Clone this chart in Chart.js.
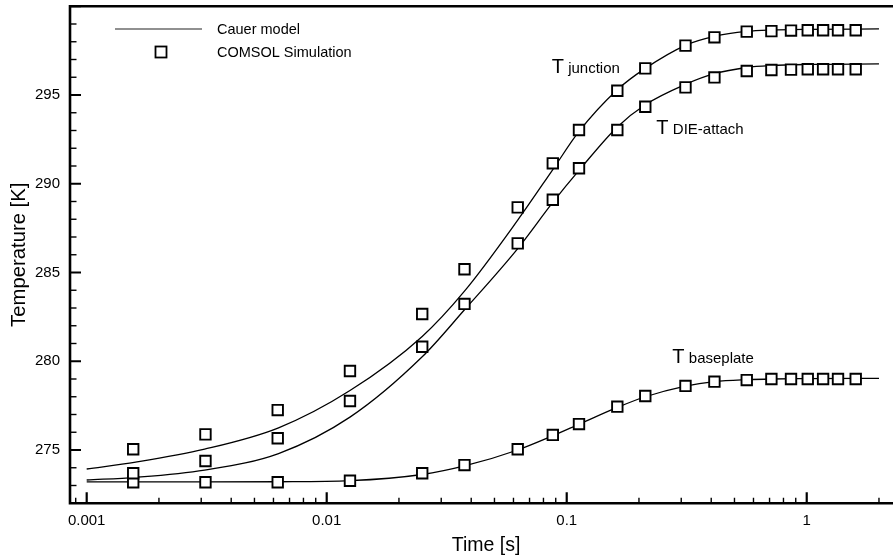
<!DOCTYPE html>
<html>
<head>
<meta charset="utf-8">
<title>Transient temperature response</title>
<script src="https://cdn.jsdelivr.net/npm/chart.js@4/dist/chart.umd.min.js"></script>
<style>
  html, body { margin: 0; padding: 0; background: #fff; }
  canvas { display: block; }
</style>
</head>
<body>
<canvas id="chart" width="893" height="559"></canvas>
<script>
// ---- data -------------------------------------------------------------
// COMSOL simulation sample times [s]
const simTimes = [0.0015625, 0.003125, 0.00625, 0.0125, 0.025, 0.0375, 0.0625, 0.0875,
                  0.1125, 0.1625, 0.2125, 0.3125, 0.4125, 0.5625, 0.7125, 0.86, 1.01, 1.17, 1.35, 1.6];
const junctionSim = [275.04, 275.88, 277.25, 279.45, 282.66, 285.18, 288.67, 291.15,
                     293.03, 295.24, 296.5, 297.78, 298.25, 298.57, 298.6, 298.63, 298.65, 298.65, 298.65, 298.65];
const dieAttachSim = [273.69, 274.38, 275.66, 277.76, 280.82, 283.23, 286.64, 289.1,
                      290.87, 293.03, 294.34, 295.43, 295.99, 296.35, 296.41, 296.43, 296.45, 296.45, 296.45, 296.45];
const baseplateSim = [273.18, 273.18, 273.18, 273.27, 273.69, 274.15, 275.04, 275.85,
                      276.46, 277.44, 278.04, 278.61, 278.85, 278.94, 279.0, 279.0, 279.0, 279.0, 279.0, 279.0];

// Cauer network model response
const modelTimes = [0.001, 0.0016, 0.0031, 0.0063, 0.0125, 0.025, 0.0375, 0.0625, 0.0875,
                    0.1125, 0.1625, 0.2125, 0.3125, 0.4125, 0.5625, 0.7125, 1.0, 2.0];
const junctionModel = [273.93, 274.32, 275.05, 276.25, 278.35, 281.4, 283.95, 287.95, 290.8,
                       292.95, 295.3, 296.5, 297.8, 298.3, 298.58, 298.66, 298.7, 298.72];
const dieAttachModel = [273.31, 273.46, 273.87, 274.8, 276.85, 280.25, 282.9, 286.35, 288.95,
                        290.75, 293.2, 294.45, 295.6, 296.2, 296.55, 296.66, 296.72, 296.75];
const baseplateModel = [273.2, 273.2, 273.2, 273.21, 273.27, 273.62, 274.1, 275.0, 275.8,
                        276.45, 277.4, 278.0, 278.6, 278.85, 278.96, 279.0, 279.02, 279.04];

const xTickValues = [0.001, 0.01, 0.1, 1];
const yTickValues = [275, 280, 285, 290, 295];

const seriesNames = ['T junction', 'T DIE-attach', 'T baseplate'];
const legendNames = ['Cauer model', 'COMSOL Simulation'];
const axisTitles = { x: 'Time [s]', y: 'Temperature [K]' };

// ---- helpers ------------------------------------------------------------
const FONT = '"Liberation Sans", Arial, Helvetica, sans-serif';
const pairs = (xs, ys) => xs.map((x, i) => ({ x: x, y: ys[i] }));

const lineStyle = {
  type: 'line',
  borderColor: '#000',
  borderWidth: 1.3,
  pointRadius: 0,
  fill: false,
  cubicInterpolationMode: 'monotone',
  order: 2
};
const squareStyle = {
  type: 'scatter',
  showLine: false,
  pointStyle: 'rect',
  pointRadius: 7.4,
  pointBorderWidth: 1.9,
  pointBackgroundColor: '#fff',
  pointBorderColor: '#000',
  order: 1
};

// ---- frame: spines and inward ticks -------------------------------------
const framePlugin = {
  id: 'frame',
  afterDatasetsDraw(chart) {
    const { ctx, chartArea: a, scales: { x, y } } = chart;
    ctx.save();
    ctx.strokeStyle = '#000';
    ctx.lineCap = 'butt';

    // y ticks (every 1 K, major every 5 K)
    for (let v = Math.ceil(y.min); v <= y.max; v++) {
      const py = y.getPixelForValue(v);
      const major = v % 5 === 0;
      ctx.lineWidth = major ? 2 : 1.4;
      ctx.beginPath();
      ctx.moveTo(a.left, py);
      ctx.lineTo(a.left + (major ? 11 : 6.5), py);
      ctx.stroke();
    }
    // x ticks (decades major, 2..9 minor)
    for (let e = -4; e <= 1; e++) {
      for (let k = 1; k <= 9; k++) {
        const v = k * Math.pow(10, e);
        if (v < x.min || v > x.max) continue;
        const px = x.getPixelForValue(v);
        const major = k === 1;
        ctx.lineWidth = major ? 2.2 : 1.4;
        ctx.beginPath();
        ctx.moveTo(px, a.bottom);
        ctx.lineTo(px, a.bottom - (major ? 11 : 5.5));
        ctx.stroke();
      }
    }
    // spines
    ctx.lineWidth = 2.6;
    ctx.beginPath();
    ctx.moveTo(a.right + 2, a.top);
    ctx.lineTo(a.left, a.top);
    ctx.lineTo(a.left, a.bottom);
    ctx.lineTo(a.right + 2, a.bottom);
    ctx.stroke();
    ctx.restore();
  }
};

// ---- axis titles, curve names and legend --------------------------------
const labelPlugin = {
  id: 'labels',
  afterDraw(chart) {
    const { ctx, chartArea: a, scales: { x, y } } = chart;
    ctx.save();
    ctx.fillStyle = '#000';

    // axis titles
    ctx.font = '19.5px ' + FONT;
    ctx.textAlign = 'center';
    ctx.textBaseline = 'alphabetic';
    ctx.fillText(axisTitles.x, (a.left + a.right) / 2 + 4.5, 550.5);
    ctx.save();
    ctx.translate(25, (a.top + a.bottom) / 2);
    ctx.rotate(-Math.PI / 2);
    ctx.font = '20.3px ' + FONT;
    ctx.fillText(axisTitles.y, 0, 0);
    ctx.restore();

    // curve names, anchored in data units (time, temperature)
    ctx.textAlign = 'left';
    const anchors = [[0.0874, 296.26], [0.2385, 292.8], [0.278, 279.88]];
    seriesNames.forEach((name, i) => {
      const px = x.getPixelForValue(anchors[i][0]);
      const py = y.getPixelForValue(anchors[i][1]);
      const parts = name.split(' ');
      ctx.font = '20px ' + FONT;
      ctx.fillText(parts[0], px - 1, py);
      ctx.font = '15px ' + FONT;
      ctx.fillText(parts[1], px + 15.5, py);
    });

    // legend
    const lx0 = 115, lx1 = 202, tx = 217;
    const y1 = 29, y2 = 52;
    ctx.strokeStyle = '#222';
    ctx.lineWidth = 1.2;
    ctx.beginPath();
    ctx.moveTo(lx0, y1);
    ctx.lineTo(lx1, y1);
    ctx.stroke();
    ctx.fillStyle = '#fff';
    ctx.strokeStyle = '#000';
    ctx.lineWidth = 1.8;
    const cx = (lx0 + lx1) / 2 + 2.5;
    ctx.fillRect(cx - 5.5, y2 - 5.5, 11, 11);
    ctx.strokeRect(cx - 5.5, y2 - 5.5, 11, 11);

    ctx.fillStyle = '#000';
    ctx.font = '14.5px ' + FONT;
    ctx.textBaseline = 'middle';
    ctx.fillText(legendNames[0], tx, y1 + 0.5);
    ctx.fillText(legendNames[1], tx, y2 + 0.5);
    ctx.restore();
  }
};

// keep the plot frame fixed: no extra room reserved for edge labels
function fixBox(size) {
  return (s) => {
    if (s.isHorizontal()) { s.height = size; } else { s.width = size; }
    s.paddingTop = 0; s.paddingBottom = 0; s.paddingLeft = 0; s.paddingRight = 0;
  };
}

// ---- chart --------------------------------------------------------------
new Chart(document.getElementById('chart'), {
  data: {
    datasets: [
      Object.assign({ label: seriesNames[0] + ' sim', data: pairs(simTimes, junctionSim) }, squareStyle),
      Object.assign({ label: seriesNames[1] + ' sim', data: pairs(simTimes, dieAttachSim) }, squareStyle),
      Object.assign({ label: seriesNames[2] + ' sim', data: pairs(simTimes, baseplateSim) }, squareStyle),
      Object.assign({ label: seriesNames[0], data: pairs(modelTimes, junctionModel) }, lineStyle),
      Object.assign({ label: seriesNames[1], data: pairs(modelTimes, dieAttachModel) }, lineStyle),
      Object.assign({ label: seriesNames[2], data: pairs(modelTimes, baseplateModel) }, lineStyle)
    ]
  },
  options: {
    responsive: false,
    animation: false,
    devicePixelRatio: 1,
    layout: { autoPadding: false, padding: { top: 6.25, right: 0, bottom: 0, left: 0 } },
    plugins: {
      legend: { display: false },
      tooltip: { enabled: false }
    },
    scales: {
      x: {
        type: 'logarithmic',
        min: 0.000852,
        max: 2.288,
        grid: { display: false, drawTicks: false },
        border: { display: false },
        afterBuildTicks: (s) => { s.ticks = xTickValues.map(v => ({ value: v })); },
        afterFit: fixBox(55.75),
        ticks: {
          color: '#000',
          font: { family: FONT, size: 15 },
          padding: 9,
          maxRotation: 0,
          autoSkip: false,
          callback: (v) => String(v)
        }
      },
      y: {
        type: 'linear',
        min: 272,
        max: 300,
        grid: { display: false, drawTicks: false },
        border: { display: false },
        afterBuildTicks: (s) => { s.ticks = yTickValues.map(v => ({ value: v })); },
        afterFit: fixBox(70),
        ticks: {
          color: '#000',
          font: { family: FONT, size: 15 },
          padding: 10,
          autoSkip: false,
          callback: (v) => String(v)
        }
      }
    }
  },
  plugins: [framePlugin, labelPlugin]
});
</script>
</body>
</html>
